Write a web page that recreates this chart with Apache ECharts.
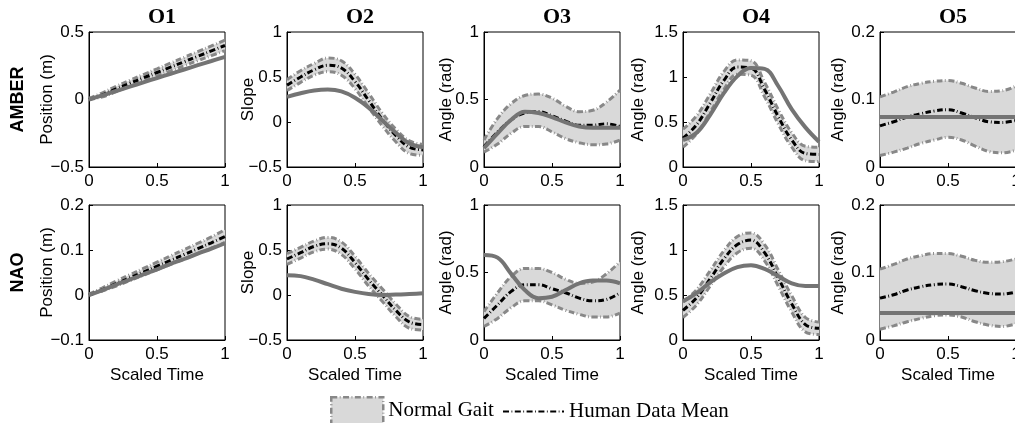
<!DOCTYPE html>
<html>
<head>
<meta charset="utf-8">
<script src="https://cdn.jsdelivr.net/npm/echarts@6/dist/echarts.min.js"></script>
<style>
  html, body { margin: 0; padding: 0; background: #fff; }
  #chart { width: 1015px; height: 423px; }
</style>
</head>
<body>
<div id="chart"></div>
<script>
// ── Data ───────────────────────────────────────────────────────────────────
const xs = [0, 0.1, 0.2, 0.3, 0.4, 0.5, 0.6, 0.7, 0.8, 0.9, 1]

// O1 – position
const up1A   = [0.01, 0.05, 0.098, 0.142, 0.185, 0.227, 0.27, 0.312, 0.355, 0.397, 0.44]
const lo1A   = [0, 0.02, 0.058, 0.098, 0.137, 0.175, 0.212, 0.25, 0.288, 0.325, 0.362]
const mean1A = [0, 0.035, 0.078, 0.12, 0.16, 0.2, 0.24, 0.28, 0.32, 0.36, 0.4]
const rob1A  = [0, 0.03, 0.063, 0.095, 0.127, 0.159, 0.19, 0.222, 0.254, 0.285, 0.316]
const up1N   = [0.002, 0.016, 0.031, 0.045, 0.059, 0.073, 0.087, 0.101, 0.115, 0.129, 0.145]
const lo1N   = [0, 0.009, 0.02, 0.032, 0.044, 0.056, 0.068, 0.08, 0.092, 0.104, 0.117]
const mean1N = [0, 0.012, 0.025, 0.038, 0.051, 0.064, 0.077, 0.09, 0.103, 0.116, 0.13]
const rob1N  = [0, 0.011, 0.023, 0.034, 0.046, 0.057, 0.069, 0.08, 0.092, 0.103, 0.115]

// O2 – slope
const up2A   = [0.47, 0.57, 0.65, 0.71, 0.68, 0.53, 0.32, 0.1, -0.08, -0.21, -0.25]
const lo2A   = [0.35, 0.44, 0.52, 0.56, 0.52, 0.37, 0.16, -0.04, -0.22, -0.35, -0.37]
const mean2A = [0.41, 0.5, 0.58, 0.63, 0.6, 0.45, 0.24, 0.03, -0.15, -0.28, -0.31]
const rob2A  = [0.28, 0.32, 0.35, 0.36, 0.34, 0.27, 0.16, 0.02, -0.12, -0.24, -0.28]
const up2N   = [0.46, 0.53, 0.6, 0.64, 0.59, 0.43, 0.24, 0.07, -0.1, -0.24, -0.27]
const lo2N   = [0.34, 0.41, 0.48, 0.51, 0.45, 0.29, 0.1, -0.07, -0.24, -0.37, -0.39]
const mean2N = [0.4, 0.47, 0.54, 0.57, 0.52, 0.36, 0.17, 0.0, -0.17, -0.3, -0.33]
const rob2N  = [0.22, 0.21, 0.17, 0.12, 0.07, 0.035, 0.01, 0.0, 0.005, 0.01, 0.02]

// O3 – angle
const up3A   = [0.2, 0.36, 0.47, 0.53, 0.54, 0.51, 0.45, 0.41, 0.42, 0.48, 0.57]
const lo3A   = [0.11, 0.17, 0.25, 0.3, 0.3, 0.26, 0.21, 0.18, 0.165, 0.17, 0.2]
const mean3A = [0.15, 0.26, 0.35, 0.4, 0.41, 0.38, 0.34, 0.31, 0.31, 0.32, 0.3]
const rob3A  = [0.14, 0.25, 0.35, 0.41, 0.4, 0.37, 0.33, 0.3, 0.29, 0.29, 0.29]
const up3N   = [0.21, 0.35, 0.47, 0.53, 0.53, 0.5, 0.45, 0.42, 0.43, 0.49, 0.58]
const lo3N   = [0.1, 0.16, 0.24, 0.29, 0.29, 0.26, 0.22, 0.19, 0.17, 0.17, 0.2]
const mean3N = [0.16, 0.26, 0.36, 0.41, 0.41, 0.38, 0.35, 0.31, 0.29, 0.3, 0.35]
const rob3N  = [0.63, 0.61, 0.49, 0.37, 0.31, 0.32, 0.37, 0.42, 0.44, 0.44, 0.42]

// O4 – angle
const up4A   = [0.42, 0.57, 0.81, 1.06, 1.19, 1.18, 0.94, 0.64, 0.38, 0.23, 0.22]
const lo4A   = [0.22, 0.37, 0.61, 0.86, 1.03, 1.02, 0.78, 0.48, 0.22, 0.07, 0.06]
const mean4A = [0.32, 0.47, 0.71, 0.96, 1.11, 1.1, 0.86, 0.56, 0.3, 0.15, 0.14]
const rob4A  = [0.3, 0.38, 0.58, 0.82, 1.01, 1.1, 1.09, 0.9, 0.64, 0.44, 0.28]
const up4N   = [0.42, 0.56, 0.77, 0.99, 1.15, 1.19, 1.06, 0.78, 0.49, 0.25, 0.2]
const lo4N   = [0.25, 0.39, 0.6, 0.81, 0.97, 1.02, 0.88, 0.6, 0.31, 0.09, 0.06]
const mean4N = [0.33, 0.47, 0.68, 0.9, 1.06, 1.11, 0.97, 0.69, 0.4, 0.17, 0.13]
const rob4N  = [0.43, 0.52, 0.64, 0.74, 0.81, 0.83, 0.79, 0.71, 0.63, 0.6, 0.6]

// O5 – angle
const up5A   = [0.104, 0.111, 0.119, 0.124, 0.127, 0.128, 0.124, 0.117, 0.112, 0.113, 0.12]
const lo5A   = [0.017, 0.022, 0.028, 0.035, 0.04, 0.044, 0.04, 0.031, 0.023, 0.021, 0.025]
const mean5A = [0.061, 0.067, 0.074, 0.079, 0.083, 0.085, 0.08, 0.073, 0.067, 0.066, 0.069]
const rob5A  = [0.074, 0.074, 0.074, 0.074, 0.074, 0.074, 0.074, 0.074, 0.074, 0.074, 0.074]
const up5N   = [0.105, 0.112, 0.12, 0.125, 0.128, 0.128, 0.124, 0.118, 0.115, 0.116, 0.12]
const lo5N   = [0.016, 0.021, 0.027, 0.032, 0.036, 0.037, 0.034, 0.027, 0.022, 0.02, 0.024]
const mean5N = [0.062, 0.067, 0.074, 0.079, 0.082, 0.083, 0.079, 0.073, 0.069, 0.068, 0.071]
const rob5N  = [0.04, 0.04, 0.04, 0.04, 0.04, 0.04, 0.04, 0.04, 0.04, 0.04, 0.04]

// Axis / label text
const colTitles = ['O1', 'O2', 'O3', 'O4', 'O5']
const rowNames  = ['AMBER', 'NAO']
const yNames    = ['Position (m)', 'Slope', 'Angle (rad)', 'Angle (rad)', 'Angle (rad)']
const yMinRows  = [[-0.5, -0.5, 0, 0, 0], [-0.1, -0.5, 0, 0, 0]]
const yMaxRows  = [[0.5, 1, 1, 1.5, 0.2], [0.2, 1, 1, 1.5, 0.2]]
const yStepRows = [[0.5, 0.5, 0.5, 0.5, 0.1], [0.1, 0.5, 0.5, 0.5, 0.1]]

const panels = [
  [
    { up: up1A, lo: lo1A, mean: mean1A, rob: rob1A },
    { up: up2A, lo: lo2A, mean: mean2A, rob: rob2A },
    { up: up3A, lo: lo3A, mean: mean3A, rob: rob3A },
    { up: up4A, lo: lo4A, mean: mean4A, rob: rob4A },
    { up: up5A, lo: lo5A, mean: mean5A, rob: rob5A },
  ],
  [
    { up: up1N, lo: lo1N, mean: mean1N, rob: rob1N },
    { up: up2N, lo: lo2N, mean: mean2N, rob: rob2N },
    { up: up3N, lo: lo3N, mean: mean3N, rob: rob3N },
    { up: up4N, lo: lo4N, mean: mean4N, rob: rob4N },
    { up: up5N, lo: lo5N, mean: mean5N, rob: rob5N },
  ],
]

// ── Layout / styles ────────────────────────────────────────────────────────
const SANS  = '"Liberation Sans", Arial, sans-serif'
const SERIF = '"Liberation Serif", "Times New Roman", serif'
const gridLeft = [89, 287, 484, 683, 880]
const gridTop  = [32, 205]
const GW = 136, GH = 135
const nameGaps = [33, 30, 29, 36, 33]

const BAND   = '#d9d9d9'
const EDGE   = '#888888'
const ROBOT  = '#747474'
const EDGE_DASH = [6, 2.5, 0.8, 2.5]
const MEAN_DASH = [6, 2.5, 0.8, 2.5]

const fmt = v => String(+(+v).toFixed(2)).replace('-', '\u2212')

const grids = [], xAxes = [], yAxes = [], series = [], titles = []

for (let r = 0; r < 2; r++) {
  for (let c = 0; c < 5; c++) {
    const idx = r * 5 + c
    const p = panels[r][c]
    grids.push({
      left: gridLeft[c], top: gridTop[r], width: GW, height: GH,
      outerBoundsMode: 'none',
      show: true, borderColor: '#000', borderWidth: 1, backgroundColor: '#fff',
    })
    xAxes.push({
      type: 'category', gridIndex: idx, data: xs, boundaryGap: false,
      name: r === 1 ? 'Scaled Time' : '', nameLocation: 'middle', nameGap: 27,
      nameMoveOverlap: false,
      nameTextStyle: { fontFamily: SANS, fontSize: 17, color: '#000' },
      axisLine: { show: true, onZero: false, lineStyle: { color: '#000', width: 1 } },
      axisTick: { show: true, inside: true, length: 4, interval: 4, lineStyle: { color: '#000' } },
      axisLabel: { fontFamily: SANS, fontSize: 17, color: '#000', margin: 6, interval: 4, formatter: fmt },
      splitLine: { show: false },
    })
    yAxes.push({
      type: 'value', gridIndex: idx,
      min: yMinRows[r][c], max: yMaxRows[r][c], interval: yStepRows[r][c],
      name: yNames[c], nameLocation: 'middle', nameGap: nameGaps[c],
      nameMoveOverlap: false,
      nameTextStyle: { fontFamily: SANS, fontSize: 17, color: '#000' },
      axisLine: { show: true, lineStyle: { color: '#000', width: 1 } },
      axisTick: { show: true, inside: true, length: 4, lineStyle: { color: '#000' } },
      axisLabel: { fontFamily: SANS, fontSize: 17, color: '#000', margin: 5, formatter: fmt },
      splitLine: { show: false },
    })

    const common = {
      type: 'line', xAxisIndex: idx, yAxisIndex: idx,
      smooth: 0.4, symbol: 'none', silent: true,
    }
    // band fill: lower edge + (upper - lower) stacked on top
    series.push({
      ...common, stack: 'band' + idx, stackStrategy: 'all',
      data: p.lo, lineStyle: { opacity: 0 }, z: 1,
    })
    series.push({
      ...common, name: 'Normal Gait', stack: 'band' + idx, stackStrategy: 'all',
      data: p.up.map((u, i) => +(u - p.lo[i]).toFixed(4)),
      lineStyle: { opacity: 0 }, itemStyle: { color: BAND },
      areaStyle: { color: BAND, opacity: 1 }, z: 1,
    })
    // dashed band edges
    series.push({ ...common, data: p.up, z: 2,
      lineStyle: { color: EDGE, width: 3, type: EDGE_DASH } })
    series.push({ ...common, data: p.lo, z: 2,
      lineStyle: { color: EDGE, width: 3, type: EDGE_DASH } })
    // human mean
    series.push({ ...common, name: 'Human Data Mean', data: p.mean, z: 3,
      itemStyle: { color: '#000' },
      lineStyle: { color: '#000', width: 3, type: MEAN_DASH } })
    // robot trajectory
    series.push({ ...common, data: p.rob, z: 4,
      lineStyle: { color: ROBOT, width: 4 } })
  }
}

colTitles.forEach((t, c) => titles.push({
  text: t, left: gridLeft[c] + GW / 2, top: 1, textAlign: 'center',
  textStyle: { fontFamily: SERIF, fontWeight: 'bold', fontSize: 22, color: '#000' },
}))

const chart = echarts.init(document.getElementById('chart'), null, { renderer: 'canvas' })
chart.setOption({
  animation: false,
  backgroundColor: '#fff',
  title: titles,
  grid: grids,
  xAxis: xAxes,
  yAxis: yAxes,
  legend: [
    {
      data: [{
        name: 'Normal Gait', icon: 'rect',
        itemStyle: { color: BAND, borderColor: EDGE, borderWidth: 2.5, borderType: EDGE_DASH },
      }],
      left: 325, top: 391, itemWidth: 52, itemHeight: 27, selectedMode: false,
      textStyle: { fontFamily: SERIF, fontSize: 21, color: '#000' },
    },
    {
      data: [{ name: 'Human Data Mean', itemStyle: { opacity: 0 } }],
      left: 497, top: 396, itemWidth: 61, itemHeight: 14, selectedMode: false,
      textStyle: { fontFamily: SERIF, fontSize: 21, color: '#000' },
    },
  ],
  graphic: rowNames.map((n, r) => ({
    type: 'text', x: 18, y: gridTop[r] + GH / 2, rotation: Math.PI / 2,
    style: { text: n, font: 'bold 18px ' + SANS, fill: '#000', align: 'center', verticalAlign: 'middle' },
  })),
  series,
})
</script>
</body>
</html>
